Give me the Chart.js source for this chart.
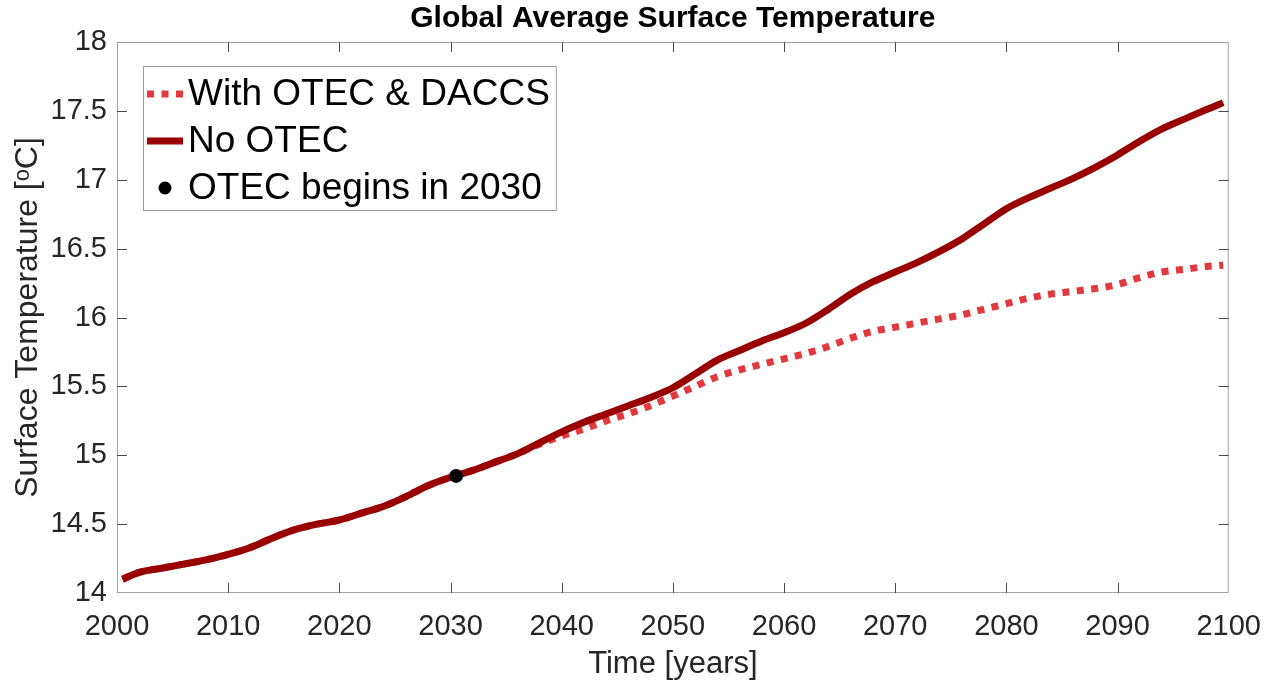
<!DOCTYPE html>
<html>
<head>
<meta charset="utf-8">
<title>Global Average Surface Temperature</title>
<script src="https://cdn.jsdelivr.net/npm/chart.js@4/dist/chart.umd.min.js"></script>
<style>
  html, body { margin: 0; padding: 0; background: #ffffff; }
  #wrap { width: 1278px; height: 686px; }
</style>
</head>
<body>
<div id="wrap"><canvas id="chart" width="1278" height="686"></canvas></div>
<script>
// Simulation years (sampled along the run)
const years = [
  2000.5, 2002, 2004, 2006, 2008, 2010, 2012, 2014, 2016, 2018,
  2020, 2022, 2024, 2026, 2028, 2030, 2032, 2034, 2036, 2038,
  2040, 2042, 2044, 2046, 2048, 2050, 2052, 2054, 2056, 2058,
  2060, 2062, 2064, 2066, 2068, 2070, 2072, 2074, 2076, 2078,
  2080, 2082, 2084, 2086, 2088, 2090, 2092, 2094, 2096, 2098, 2099.5
];

// Global average surface temperature, baseline run [°C]
const noOtec = [
  14.10, 14.15, 14.18, 14.21, 14.24, 14.28, 14.33, 14.40, 14.46, 14.50,
  14.53, 14.58, 14.63, 14.70, 14.78, 14.84, 14.89, 14.95, 15.01, 15.09,
  15.17, 15.24, 15.30, 15.36, 15.42, 15.49, 15.59, 15.69, 15.76, 15.83,
  15.89, 15.96, 16.06, 16.17, 16.26, 16.33, 16.40, 16.48, 16.57, 16.68,
  16.79, 16.87, 16.94, 17.01, 17.09, 17.18, 17.28, 17.37, 17.44, 17.51, 17.56
];

// Global average surface temperature with OTEC and DACCS deployed [°C]
const withOtecDaccs = [
  14.10, 14.15, 14.18, 14.21, 14.24, 14.28, 14.33, 14.40, 14.46, 14.50,
  14.53, 14.58, 14.63, 14.70, 14.78, 14.84, 14.89, 14.95, 15.01, 15.08,
  15.14, 15.19, 15.25, 15.30, 15.36, 15.43, 15.50, 15.57, 15.62, 15.66,
  15.70, 15.74, 15.79, 15.85, 15.90, 15.93, 15.96, 15.99, 16.02, 16.06,
  16.10, 16.14, 16.17, 16.19, 16.21, 16.24, 16.29, 16.33, 16.35, 16.37, 16.38
];

// Start of OTEC deployment
const otecStartYear = [2030.5];
const otecStartTemp = [14.85];

// Axis ticks
const xTicks = [2000, 2010, 2020, 2030, 2040, 2050, 2060, 2070, 2080, 2090, 2100];
const yTicks = [14, 14.5, 15, 15.5, 16, 16.5, 17, 17.5, 18];

const FONT = "'Liberation Sans', Arial, 'DejaVu Sans', sans-serif";
Chart.defaults.font.family = FONT;
Chart.defaults.color = '#262626';

const toPoints = (xs, ys) => xs.map((x, i) => ({ x: x, y: ys[i] }));

// Box around the plot area with inward tick marks on all four sides
const framePlugin = {
  id: 'frame',
  afterDraw(chart) {
    const { ctx, chartArea: a, scales: { x, y } } = chart;
    ctx.save();
    ctx.lineWidth = 1;
    ctx.strokeStyle = '#a3a3a3';
    ctx.strokeRect(a.left + 0.5, a.top + 0.5, a.right - a.left - 1, a.bottom - a.top - 1);
    ctx.strokeStyle = '#4a4a4a';
    ctx.beginPath();
    xTicks.slice(1, -1).forEach(v => {
      const px = Math.round(x.getPixelForValue(v)) + 0.5;
      ctx.moveTo(px, a.bottom); ctx.lineTo(px, a.bottom - 10);
      ctx.moveTo(px, a.top); ctx.lineTo(px, a.top + 10);
    });
    yTicks.slice(1, -1).forEach(v => {
      const py = Math.round(y.getPixelForValue(v)) + 0.5;
      ctx.moveTo(a.left, py); ctx.lineTo(a.left + 10, py);
      ctx.moveTo(a.right, py); ctx.lineTo(a.right - 10, py);
    });
    ctx.stroke();
    ctx.restore();
  }
};

// Boxed legend in the upper-left corner of the plot area
const boxLegendPlugin = {
  id: 'boxLegend',
  afterDraw(chart) {
    const { ctx } = chart;
    const sets = chart.data.datasets;
    const left = 143, top = 66, rowGap = 47, firstRow = 94;
    const sampleX0 = 147, sampleX1 = 183, textX = 188;
    ctx.save();
    ctx.font = '37px ' + FONT;
    const textW = Math.max(...sets.map(ds => ctx.measureText(ds.label).width));
    const width = textX + textW + 6 - left;
    const height = 144;
    ctx.fillStyle = '#ffffff';
    ctx.fillRect(left, top, width, height);
    ctx.lineWidth = 1;
    ctx.strokeStyle = '#9e9e9e';
    ctx.strokeRect(left + 0.5, top + 0.5, width, height);

    sets.forEach((ds, i) => {
      const ry = firstRow + i * rowGap;
      if (ds.showLine === false) {
        ctx.setLineDash([]);
        ctx.fillStyle = ds.backgroundColor;
        ctx.beginPath();
        ctx.arc((sampleX0 + sampleX1) / 2, ry, 6.5, 0, Math.PI * 2);
        ctx.fill();
      } else {
        ctx.setLineDash(ds.borderDash || []);
        ctx.lineCap = 'butt';
        ctx.lineWidth = ds.borderWidth;
        ctx.strokeStyle = ds.borderColor;
        ctx.beginPath();
        ctx.moveTo(sampleX0, ry);
        ctx.lineTo(sampleX1, ry);
        ctx.stroke();
      }
      ctx.setLineDash([]);
      ctx.fillStyle = '#000000';
      ctx.textBaseline = 'middle';
      ctx.textAlign = 'left';
      ctx.fillText(ds.label, textX, ry + 1);
    });
    ctx.restore();
  }
};

new Chart(document.getElementById('chart'), {
  type: 'line',
  data: {
    datasets: [
      {
        label: 'With OTEC & DACCS',
        data: toPoints(years, withOtecDaccs),
        borderColor: '#e2393f',
        backgroundColor: '#e2393f',
        borderWidth: 7,
        borderDash: [7, 7.5],
        borderCapStyle: 'butt',
        pointRadius: 0,
        cubicInterpolationMode: 'monotone',
        fill: false,
        order: 2
      },
      {
        label: 'No OTEC',
        data: toPoints(years, noOtec),
        borderColor: '#990000',
        backgroundColor: '#990000',
        borderWidth: 7,
        borderCapStyle: 'butt',
        pointRadius: 0,
        cubicInterpolationMode: 'monotone',
        fill: false,
        order: 1
      },
      {
        label: 'OTEC begins in 2030',
        data: toPoints(otecStartYear, otecStartTemp),
        showLine: false,
        borderColor: '#000000',
        backgroundColor: '#000000',
        pointRadius: 7,
        pointBorderWidth: 0,
        order: 0
      }
    ]
  },
  options: {
    responsive: false,
    animation: false,
    devicePixelRatio: 1,
    layout: { padding: { top: 0, right: 49, bottom: 0, left: 0 } },
    plugins: {
      legend: { display: false },
      tooltip: { enabled: false },
      title: {
        display: true,
        fullSize: false,
        text: 'Global Average Surface Temperature',
        color: '#000000',
        font: { size: 30, weight: 'bold', family: FONT },
        padding: { top: 1, bottom: 5 }
      }
    },
    scales: {
      x: {
        type: 'linear',
        min: 2000,
        max: 2100,
        afterBuildTicks: s => { s.ticks = xTicks.map(v => ({ value: v })); },
        afterFit: s => { s.height = 93; },
        grid: { display: false, drawTicks: false },
        border: { display: false },
        ticks: {
          font: { size: 29 },
          padding: 17,
          maxRotation: 0,
          autoSkip: false,
          callback: v => String(v)
        },
        title: {
          display: true,
          text: 'Time [years]',
          font: { size: 31 },
          padding: { top: 0, bottom: 3 }
        }
      },
      y: {
        type: 'linear',
        min: 14,
        max: 18,
        afterBuildTicks: s => { s.ticks = yTicks.map(v => ({ value: v })); },
        afterFit: s => { s.width = 117; },
        grid: { display: false, drawTicks: false },
        border: { display: false },
        ticks: {
          font: { size: 29 },
          padding: 10,
          autoSkip: false,
          callback: v => String(v)
        },
        title: {
          display: true,
          text: 'Surface Temperature [ᵒC]',
          font: { size: 32 },
          padding: { top: 9, bottom: 0 }
        }
      }
    }
  },
  plugins: [framePlugin, boxLegendPlugin]
});
</script>
</body>
</html>
